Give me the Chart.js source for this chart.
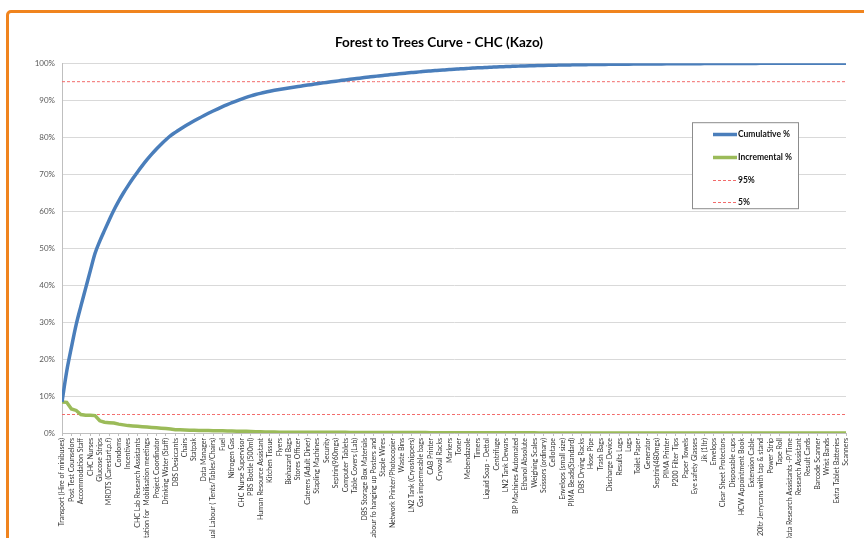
<!DOCTYPE html>
<html>
<head>
<meta charset="utf-8">
<title>Forest to Trees Curve - CHC (Kazo)</title>
<script src="https://cdn.jsdelivr.net/npm/chart.js@4.4.1/dist/chart.umd.min.js"></script>
<style>
  html, body { margin: 0; padding: 0; background: #fff; overflow: hidden; }
  #wrap { position: relative; width: 864px; height: 538px; overflow: hidden; }
  #c { position: absolute; left: 0; top: 0; }
  #frame {
    position: absolute; left: 6px; top: 10px; width: 900px; height: 600px;
    border: 3px solid #F0841E; border-radius: 5px; box-sizing: border-box; pointer-events: none;
  }
</style>
</head>
<body>
<div id="wrap">
  <canvas id="c" width="864" height="538"></canvas>
  <div id="frame"></div>
</div>
<script>
// Cost items, ranked by share of spend (one name shown for every second item)
const itemNames = [
  "Transport (Hire of minibuses)", "Post Test Counselors", "Accommodation Staff", "CHC Nurses",
  "Glucose Strips", "MRDTS (Carestart,p.f)", "Condoms", "Incentives", "CHC Lab Research Assistants",
  "Facilitation for  Mobilisation meetings", "Project Coordinator", "Drinking Water (Staff)",
  "DBS Desiccants", "Chairs", "Statpak", "Data Manager", "Casual Labour ( Tents/Tables/Chairs)",
  "Fuel", "Nitrogen Gas", "CHC Nurse Supervisor", "PBS Bottle (500ml)", "Human Resource Assistant",
  "Kitchen Tissue", "Flyers", "Biohazard Bags", "Stores Officer", "Caterers (Adult Diner)",
  "Stapling Machines", "Security", "Septrin(960mgs)", "Computer Tablets", "Table Covers (Lab)",
  "DBS Storage Box Materials", "Labour fo hanging up Posters and", "Staple Wires",
  "Network Printer/Photocopier", "Waste Bins", "LN2 Tank (Cryoshippers)", "Gas impermeable bags",
  "CAB Printer", "Cryoval Racks", "Markers", "Toner", "Mebendazole", "Timers",
  "Liquid Soap - Dettol", "Centrifuge", "LN2 Tank Dewars", "BP Machines Automated",
  "Ethanol Absolute", "Weighing Scales", "Scissors (ordinary)", "Cellotape",
  "Envelops (small size)", "PIMA Beads(Standard)", "DBS Drying Racks", "Hose Pipe", "Trash Bags",
  "Discharge Device", "Results Logs", "Logs", "Toilet Paper", "Generator", "Septrin(480mgs)",
  "PIMA Printer", "P200 Filter Tips", "Paper Towels", "Eye safety Glasses", "Jik (1ltr)",
  "Envelops", "Clear Sheet Protectors", "Disposable cups", "HCW Appointment Book",
  "Extension Cable", "20ltr Jerrycans with tap & stand", "Power Strip", "Tape Roll",
  "Data Research Assistants -P/Time", "Research Assistant", "Result Cards", "Barcode Scanner",
  "Wrist Bands", "Extra Tablet Batteries", "Scanners"
];

// Running total of spend share, %
const cumulativePct = [
  8.4, 16.7, 23.2, 29.3, 34.3, 39.1, 43.9, 48.6, 51.9, 54.8,
  57.6, 60.3, 62.7, 64.9, 66.9, 68.8, 70.6, 72.3, 73.9, 75.4,
  76.8, 78.1, 79.3, 80.4, 81.3, 82.15, 82.95, 83.7, 84.42, 85.12,
  85.8, 86.45, 87.07, 87.67, 88.25, 88.8, 89.33, 89.83, 90.31, 90.76,
  91.16, 91.52, 91.85, 92.15, 92.42, 92.67, 92.9, 93.11, 93.31, 93.51,
  93.7, 93.89, 94.08, 94.26, 94.44, 94.62, 94.8, 94.97, 95.14, 95.31,
  95.48, 95.64, 95.8, 95.96, 96.11, 96.26, 96.41, 96.55, 96.69, 96.83,
  96.96, 97.09, 97.22, 97.34, 97.46, 97.58, 97.69, 97.8, 97.9, 98.0,
  98.1, 98.19, 98.28, 98.37, 98.45, 98.53, 98.6, 98.67, 98.74, 98.8,
  98.86, 98.92, 98.98, 99.03, 99.08, 99.13, 99.18, 99.22, 99.26, 99.3,
  99.34, 99.37, 99.4, 99.43, 99.46, 99.48, 99.5, 99.53, 99.55, 99.57,
  99.59, 99.61, 99.63, 99.65, 99.66, 99.68, 99.69, 99.7, 99.72, 99.73,
  99.74, 99.75, 99.76, 99.77, 99.78, 99.79, 99.8, 99.81, 99.82, 99.83,
  99.84, 99.85, 99.85, 99.86, 99.87, 99.88, 99.89, 99.89, 99.9, 99.91,
  99.91, 99.92, 99.93, 99.93, 99.94, 99.94, 99.95, 99.95, 99.96, 99.97,
  99.97, 99.97, 99.97, 99.98, 99.98, 99.98, 99.98, 99.99, 99.99, 99.99,
  99.99, 99.99, 100, 100, 100, 100, 100
];

// Each item's own share of spend, %
const incrementalPct = [
  8.4, 8.3, 6.5, 6.1, 5.0, 4.8, 4.8, 4.7, 3.3, 2.9,
  2.8, 2.7, 2.4, 2.2, 2.0, 1.9, 1.8, 1.7, 1.6, 1.5,
  1.4, 1.3, 1.2, 1.1, 0.9, 0.85, 0.8, 0.75, 0.72, 0.7,
  0.68, 0.65, 0.62, 0.6, 0.58, 0.55, 0.53, 0.5, 0.48, 0.45,
  0.4, 0.36, 0.33, 0.3, 0.27, 0.25, 0.23, 0.21, 0.2, 0.2,
  0.19, 0.19, 0.19, 0.18, 0.18, 0.18, 0.18, 0.17, 0.17, 0.17,
  0.17, 0.16, 0.16, 0.16, 0.15, 0.15, 0.15, 0.14, 0.14, 0.14,
  0.13, 0.13, 0.13, 0.12, 0.12, 0.12, 0.11, 0.11, 0.1, 0.1,
  0.1, 0.09, 0.09, 0.09, 0.08, 0.08, 0.07, 0.07, 0.07, 0.06,
  0.06, 0.06, 0.06, 0.05, 0.05, 0.05, 0.05, 0.04, 0.04, 0.04,
  0.04, 0.03, 0.03, 0.03, 0.03, 0.02, 0.02, 0.03, 0.02, 0.02,
  0.02, 0.02, 0.02, 0.02, 0.01, 0.02, 0.01, 0.01, 0.02, 0.01,
  0.01, 0.01, 0.01, 0.01, 0.01, 0.01, 0.01, 0.01, 0.01, 0.01,
  0.01, 0.01, 0, 0.01, 0.01, 0.01, 0.01, 0, 0.01, 0.01,
  0, 0.01, 0.01, 0, 0.01, 0, 0.01, 0, 0.01, 0.01,
  0, 0, 0, 0.01, 0, 0, 0, 0.01, 0, 0,
  0, 0, 0.01, 0, 0, 0, 0
];

// Reference thresholds, %
const upperCutoff = 95;
const lowerCutoff = 5;

const asPoints = arr => arr.map((v, i) => ({ x: i, y: v }));
const flatLine = v => cumulativePct.map((_, i) => ({ x: i, y: v }));

// Legend drawn as a framed box inside the plot, like the spreadsheet original
const boxLegend = {
  id: 'boxLegend',
  afterDraw(chart) {
    const { ctx, chartArea } = chart;
    const x = chartArea.right - 154, y = chartArea.top + 59, w = 106, h = 86;
    ctx.save();
    ctx.fillStyle = '#ffffff';
    ctx.fillRect(x, y, w, h);
    ctx.strokeStyle = '#8c8c8c';
    ctx.lineWidth = 1;
    ctx.strokeRect(x + 0.5, y + 0.5, w, h);
    chart.data.datasets.forEach((ds, i) => {
      const cy = Math.round(y + 12 + i * 22.7) + 0.5;
      ctx.beginPath();
      ctx.setLineDash(ds.borderDash || []);
      ctx.strokeStyle = ds.borderColor;
      ctx.lineWidth = ds.borderWidth;
      ctx.moveTo(x + 21, cy);
      ctx.lineTo(x + 45, cy);
      ctx.stroke();
      ctx.setLineDash([]);
      ctx.fillStyle = '#111';
      ctx.font = 'bold 8.5px Lato';
      ctx.textBaseline = 'middle';
      ctx.fillText(ds.label, x + 46, cy);
    });
    ctx.restore();
  }
};

new Chart(document.getElementById('c'), {
  type: 'line',
  data: {
    datasets: [
      { label: 'Cumulative %', data: asPoints(cumulativePct), borderColor: '#4A7EBB', borderWidth: 3.5,
        pointRadius: 0, cubicInterpolationMode: 'monotone', fill: false },
      { label: 'Incremental %', data: asPoints(incrementalPct), borderColor: '#9BBB59', borderWidth: 3.5,
        pointRadius: 0, tension: 0, fill: false },
      { label: '95%', data: flatLine(upperCutoff), borderColor: '#F26B6B', borderWidth: 1,
        borderDash: [3, 2], pointRadius: 0, fill: false },
      { label: '5%', data: flatLine(lowerCutoff), borderColor: '#F26B6B', borderWidth: 1,
        borderDash: [3, 2], pointRadius: 0, fill: false }
    ]
  },
  options: {
    responsive: false,
    animation: false,
    devicePixelRatio: 1,
    layout: { padding: { top: 28, right: 18, left: 32, bottom: 0 } },
    plugins: {
      legend: { display: false },
      tooltip: { enabled: false },
      title: {
        display: true,
        text: 'Forest to Trees Curve - CHC (Kazo)',
        color: '#000',
        font: { family: 'Lato', size: 13.5, weight: 'bold' },
        padding: { top: 7, bottom: 12 }
      }
    },
    scales: {
      x: {
        type: 'linear',
        min: 0,
        max: cumulativePct.length - 1,
        grid: { display: true, drawOnChartArea: false, drawTicks: true, tickLength: 3, color: '#bfbfbf' },
        border: { color: '#bfbfbf' },
        ticks: {
          stepSize: 2,
          autoSkip: false,
          maxRotation: 90,
          minRotation: 90,
          padding: 2,
          color: '#333',
          font: { family: 'Lato', size: 7 },
          callback: v => itemNames[v / 2] ?? ''
        },
        afterFit: s => { s.height = 105; }
      },
      y: {
        min: 0,
        max: 100,
        grid: { color: '#d9d9d9', drawTicks: false },
        border: { color: '#bfbfbf' },
        ticks: {
          stepSize: 10,
          padding: 7,
          color: '#595959',
          font: { family: 'Lato', size: 8 },
          callback: v => v + '%'
        },
        afterFit: s => { s.width = 30; }
      }
    }
  },
  plugins: [boxLegend]
});
</script>
</body>
</html>
